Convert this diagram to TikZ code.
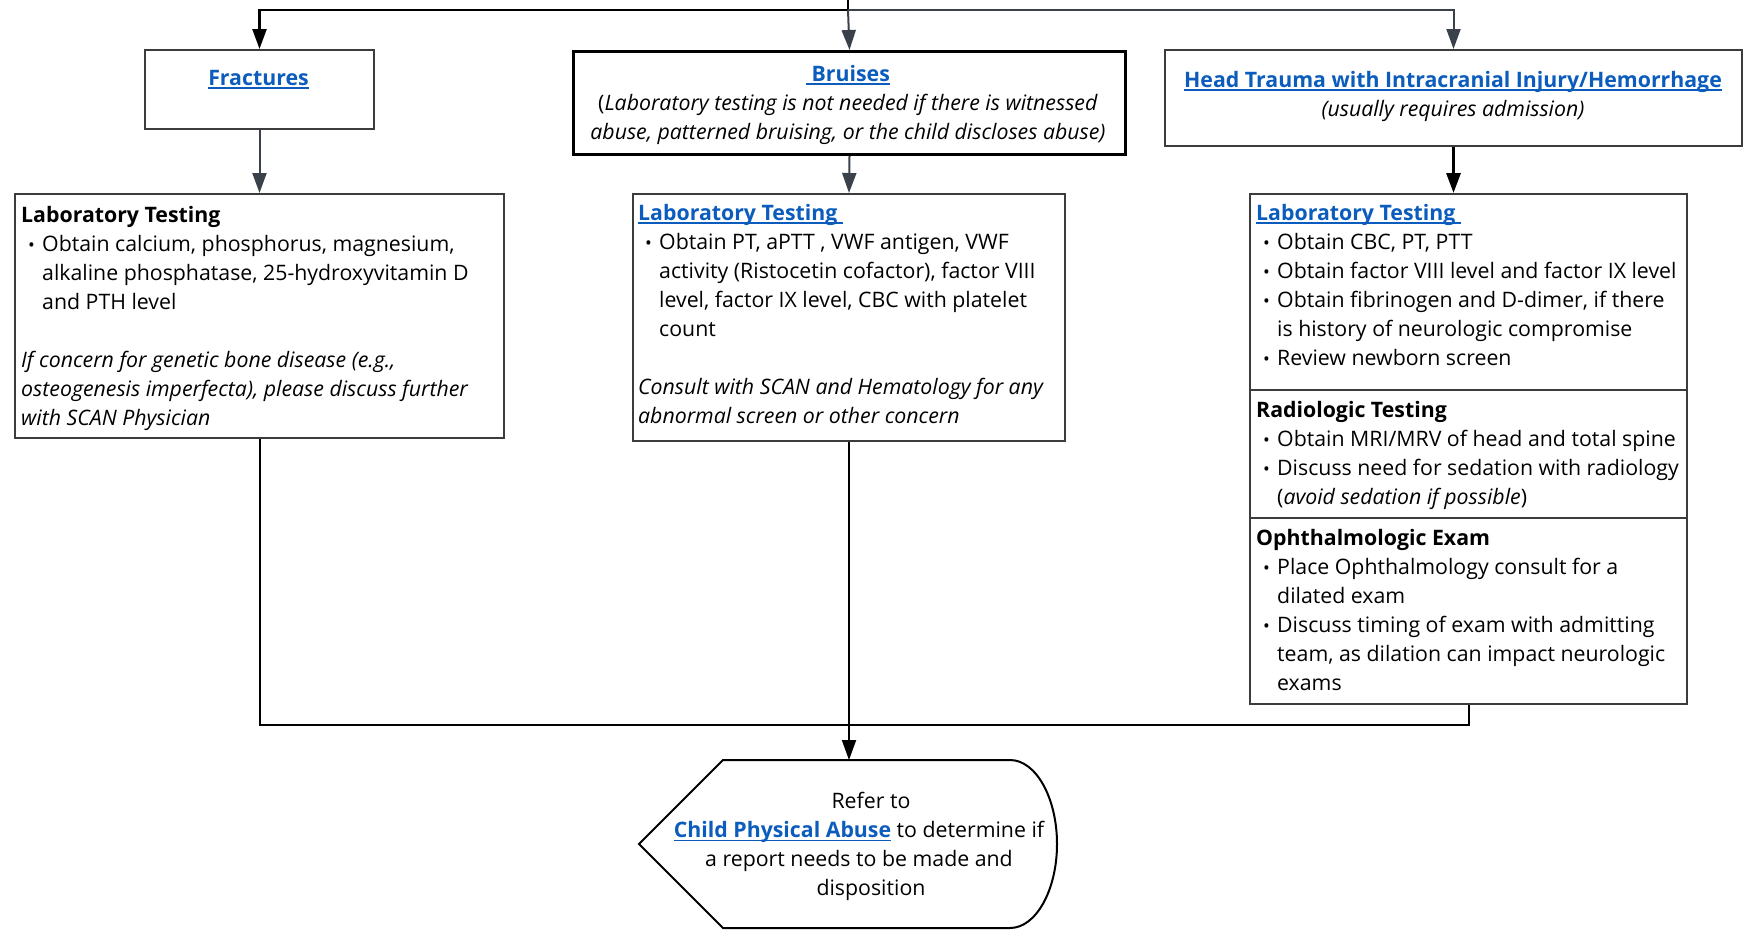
\documentclass[tikz,border=0pt]{standalone}
\usepackage{fontspec}
\setmainfont{Open Sans}
\usetikzlibrary{arrows.meta}

\definecolor{linkblue}{HTML}{0B5CBD}
\definecolor{framegray}{HTML}{3C3C3C}
\definecolor{arrowgray}{HTML}{3A414A}

% link text: bold, blue, underlined close to the baseline
\newcommand{\lnk}[1]{{\color{linkblue}\bfseries\setbox0=\hbox{#1}\rlap{\rule[-4pt]{\wd0}{1.8pt}}\box0}}
% bullet and hanging indent
\newcommand{\bul}{\makebox[21pt][l]{\hspace{7pt}{\fontsize{18}{18}\selectfont\textbullet}}}
\newcommand{\ind}{\hspace*{21pt}}
% fixed height of the first line
\newcommand{\fl}{\rule{0pt}{20pt}}

\begin{document}
\begin{tikzpicture}[x=1pt,y=-1pt,
    every node/.style={inner sep=0pt, font=\fontsize{21.3}{29.1}\selectfont},
    frame/.style={draw=framegray, line width=2pt, anchor=north west},
    txt/.style={align=left, anchor=north west},
    ctxt/.style={align=center, anchor=north},
    blackarrow/.style={draw=black, line width=2.4pt, -{Triangle[length=20pt,width=14pt]}},
    grayarrow/.style={draw=arrowgray, line width=2pt, -{Triangle[length=20pt,width=14pt]}},
    joinline/.style={draw=black, line width=2pt}]
  \useasboundingbox (0,0) rectangle (1743,930);

  % top row
  \node[frame, minimum width=229, minimum height=79] (frac) at (144,49) {};
  \node[frame, draw=black, line width=3pt, minimum width=552, minimum height=103] (bruise) at (572,50) {};
  \node[frame, minimum width=577, minimum height=96] (head) at (1164,49) {};

  \node[ctxt] (fractxt) at (258.5,65) {\fl\lnk{Fractures}};
  \node[ctxt] (bruisetxt) at (848,61) {\fl\lnk{\ Bruises}\\
    (\textit{Laboratory testing is not needed if there is witnessed}\\
    \textit{abuse, patterned bruising, or the child discloses abuse)}};
  \node[ctxt] (headtxt) at (1453,67) {\fl\lnk{Head Trauma with Intracranial Injury/Hemorrhage}\\
    \textit{(usually requires admission)}};

  % testing boxes
  \node[frame, minimum width=489, minimum height=244] (lab1) at (14,193) {};
  \node[frame, minimum width=432, minimum height=247] (lab2) at (632,193) {};
  \node[frame, minimum width=437, minimum height=196] (lab3) at (1249,193) {};
  \node[frame, minimum width=437, minimum height=128] (rad) at (1249,389) {};
  \node[frame, minimum width=437, minimum height=186] (oph) at (1249,517) {};

  \node[txt] (lab1txt) at (21,202) {\fl\textbf{Laboratory Testing}\\
    \bul Obtain calcium, phosphorus, magnesium,\\
    \ind alkaline phosphatase, 25-hydroxyvitamin D\\
    \ind and PTH level\\[29.1pt]
    \textit{If concern for genetic bone disease (e.g.,}\\
    \textit{osteogenesis imperfecta), please discuss further}\\
    \textit{with SCAN Physician}};
  \node[txt] (lab2txt) at (638,200) {\fl\lnk{Laboratory Testing\ }\\
    \bul Obtain PT, aPTT , VWF antigen, VWF\\
    \ind activity (Ristocetin cofactor), factor VIII\\
    \ind level, factor IX level, CBC with platelet\\
    \ind count\\[29.1pt]
    \textit{Consult with SCAN and Hematology for any}\\
    \textit{abnormal screen or other concern}};
  \node[txt] (lab3txt) at (1256,200) {\fl\lnk{Laboratory Testing\ }\\
    \bul Obtain CBC, PT, PTT\\
    \bul Obtain factor VIII level and factor IX level\\
    \bul Obtain fibrinogen and D-dimer, if there\\
    \ind is history of neurologic compromise\\
    \bul Review newborn screen};
  \node[txt] (radtxt) at (1256,397) {\fl\textbf{Radiologic Testing}\\
    \bul Obtain MRI/MRV of head and total spine\\
    \bul Discuss need for sedation with radiology\\
    \ind (\textit{avoid sedation if possible})};
  \node[txt] (ophtxt) at (1256,525) {\fl\textbf{Ophthalmologic Exam}\\
    \bul Place Ophthalmology consult for a\\
    \ind dilated exam\\
    \bul Discuss timing of exam with admitting\\
    \ind team, as dilation can impact neurologic\\
    \ind exams};

  % final step
  \coordinate (fin-nw) at (723,760);
  \coordinate (fin-ne) at (1010,760);
  \coordinate (fin-e) at (1057,844);
  \coordinate (fin-se) at (1010,928);
  \coordinate (fin-sw) at (723,928);
  \coordinate (fin-w) at (639,844);
  \draw[line width=2pt] (fin-nw) -- (fin-ne) .. controls (1036,760) and (1057,798) .. (fin-e)
    .. controls (1057,890) and (1036,928) .. (fin-se) -- (fin-sw) -- (fin-w) -- cycle;
  \node[ctxt] (refertxt) at (859,788) {\fl\hspace*{24pt}Refer to\\
    \lnk{Child Physical Abuse} to determine if\\
    a report needs to be made and\\
    \hspace*{24pt}disposition};

  % connectors
  \coordinate (src) at (848,0);
  \coordinate (split) at (848,10);
  \coordinate (merge) at (848,725);
  \draw[blackarrow] (src) -- (split) -| (frac.north);
  \draw[grayarrow] (split) -- (bruise.north);
  \draw[grayarrow] (split) -| (head.north);
  \draw[grayarrow] (frac.south) -- (lab1.north);
  \draw[grayarrow] (bruise.south) -- (lab2.north);
  \draw[blackarrow, line width=3pt] (head.south) -- (head.south |- lab3.north);
  \draw[joinline] (lab1.south) |- (merge) -| (oph.south);
  \draw[blackarrow, line width=2pt] (lab2.south) -- (lab2.south |- fin-nw);
\end{tikzpicture}
\end{document}
